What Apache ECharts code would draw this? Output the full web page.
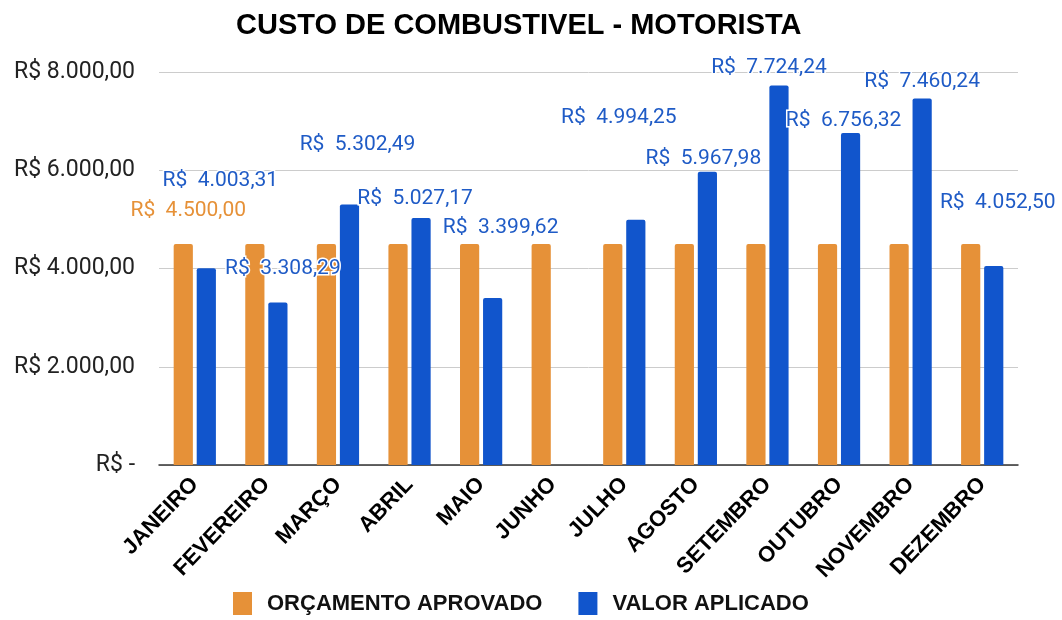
<!DOCTYPE html>
<html>
<head>
<meta charset="utf-8">
<script src="https://cdn.jsdelivr.net/npm/echarts@6/dist/echarts.min.js"></script>
<style>
  html, body { margin: 0; padding: 0; background: #fff; }
  #chart { width: 1062px; height: 620px; }
</style>
</head>
<body>
<div id="chart"></div>
<script>
// Data
const meses = ['JANEIRO', 'FEVEREIRO', 'MARÇO', 'ABRIL', 'MAIO', 'JUNHO', 'JULHO', 'AGOSTO', 'SETEMBRO', 'OUTUBRO', 'NOVEMBRO', 'DEZEMBRO'];
const orcamentoAprovado = [4500, 4500, 4500, 4500, 4500, 4500, 4500, 4500, 4500, 4500, 4500, 4500];
const valorAplicado = [4003.31, 3308.29, 5302.49, 5027.17, 3399.62, null, 4994.25, 5967.98, 7724.24, 6756.32, 7460.24, 4052.50];
const yTicks = [0, 2000, 4000, 6000, 8000];

// label nudges (px) to mimic the reference's label placement
const blueLabelOffsets = [[14, -72], [5, -18], [8, -44], [-6, -4], [8, -55], [0, 0], [-17, -86], [-4, 2], [-10, -2], [-7, 3], [0, -1], [4, -48]];
const orangeLabelOffset = [5, -18];

function brl(v, sep) {
    if (v === 0) return 'R$' + sep + '-';
    const parts = v.toFixed(2).split('.');
    const inteiro = parts[0].replace(/\B(?=(\d{3})+(?!\d))/g, '.');
    return 'R$' + sep + inteiro + ',' + parts[1];
}

const chart = echarts.init(document.getElementById('chart'));

const blueData = valorAplicado.map(function(v, i) {
    return {
        value: v,
        label: { offset: blueLabelOffsets[i] }
    };
});

const orangeData = orcamentoAprovado.map(function(v, i) {
    return {
        value: v,
        label: { show: i === 0, offset: orangeLabelOffset }
    };
});

const option = {
    animation: false,
    title: {
        text: 'CUSTO DE COMBUSTIVEL - MOTORISTA',
        left: 231,
        top: 6,
        textStyle: {
            fontFamily: 'Liberation Sans',
            fontWeight: 'bold',
            fontSize: 29,
            color: '#000'
        }
    },
    legend: {
        data: ['ORÇAMENTO APROVADO', 'VALOR APLICADO'],
        bottom: 0,
        left: 228,
        icon: 'rect',
        itemWidth: 19,
        itemHeight: 23,
        itemGap: 36,
        textStyle: {
            fontFamily: 'Liberation Sans',
            fontWeight: 'bold',
            fontSize: 22,
            color: '#111',
            padding: [0, 0, 0, 10]
        }
    },
    grid: {
        left: 159,
        right: 44,
        top: 72,
        bottom: 155
    },
    xAxis: {
        type: 'category',
        data: meses,
        axisTick: { show: false },
        axisLine: { lineStyle: { color: '#333', width: 1.5 } },
        axisLabel: {
            rotate: 46,
            interval: 0,
            margin: 16,
            fontFamily: 'Liberation Sans',
            fontWeight: 'bold',
            fontSize: 22,
            color: '#000'
        }
    },
    yAxis: {
        type: 'value',
        min: yTicks[0],
        max: yTicks[yTicks.length - 1],
        interval: 2000,
        axisLine: { show: false },
        axisTick: { show: false },
        splitLine: { lineStyle: { color: '#cccccc' } },
        axisLabel: {
            margin: 24,
            fontFamily: 'Roboto',
            fontSize: 23,
            color: '#222',
            formatter: function(v) { return brl(v, ' '); }
        }
    },
    series: [
        {
            name: 'ORÇAMENTO APROVADO',
            type: 'bar',
            barGap: '20%',
            barCategoryGap: '41%',
            itemStyle: { color: '#e69138', borderRadius: [2, 2, 0, 0] },
            label: {
                position: 'top',
                fontFamily: 'Roboto',
                fontSize: 21,
                color: '#e69138',
                formatter: function(p) { return brl(p.value, '  '); }
            },
            data: orangeData
        },
        {
            name: 'VALOR APLICADO',
            type: 'bar',
            itemStyle: { color: '#1155cc', borderRadius: [2, 2, 0, 0] },
            label: {
                show: true,
                position: 'top',
                fontFamily: 'Roboto',
                fontSize: 21,
                color: '#1f5bc6',
                textBorderColor: '#fff',
                textBorderWidth: 3,
                formatter: function(p) { return p.value == null ? '' : brl(p.value, '  '); }
            },
            data: blueData
        }
    ]
};
chart.setOption(option);
</script>
</body>
</html>
